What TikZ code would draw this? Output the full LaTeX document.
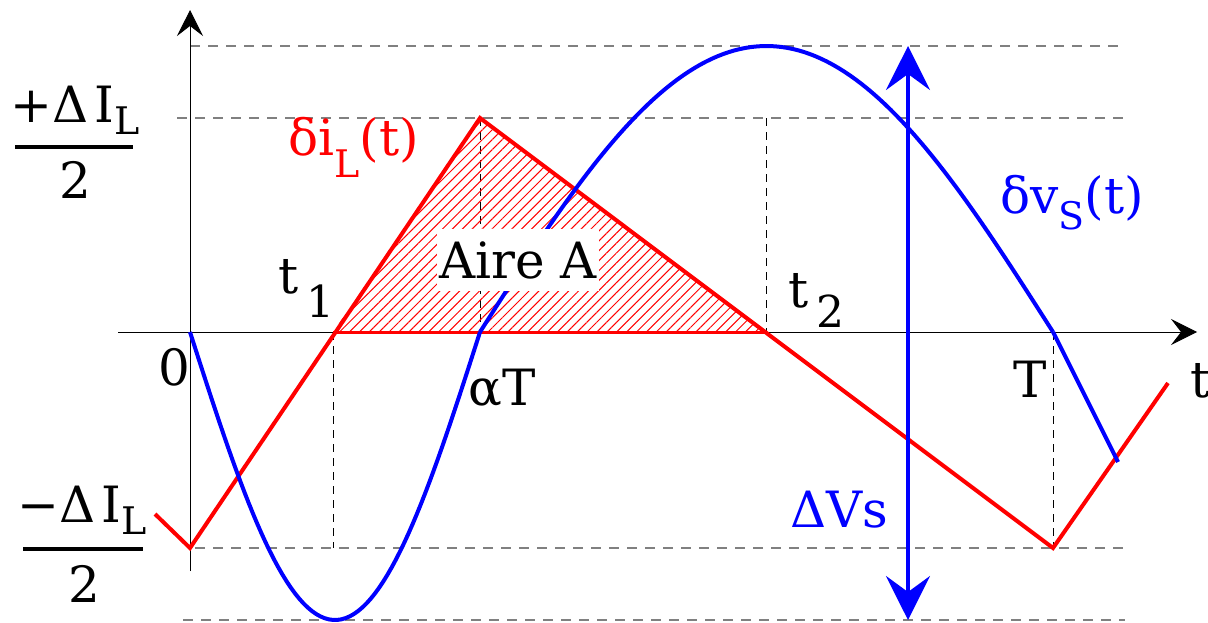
\documentclass[tikz,border=0pt]{standalone}
\usepackage{fontspec}
\setmainfont{DejaVu Serif}
\usetikzlibrary{arrows.meta,patterns.meta}

\newcommand{\lowsub}[2][9pt]{\raisebox{-#1}{\fontsize{19}{19}\selectfont #2}}

\tikzset{
  lbl/.style={inner sep=0pt, anchor=base west, font=\fontsize{25}{30}\selectfont},
  guide/.style={gray, line width=0.75pt, dash pattern=on 5pt off 4pt},
  tick/.style={black, line width=0.4pt, dash pattern=on 4pt off 3pt},
  ripple/.style={red, line width=2pt},
  volt/.style={blue, line width=2pt},
}

\begin{document}
\begin{tikzpicture}[x=0.5pt, y=-0.5pt, >=Stealth]
  \useasboundingbox (0,0) rectangle (1208,622);

  % Key points
  \coordinate (O)   at (190,332);
  \coordinate (t1)  at (333,332);
  \coordinate (aT)  at (480,332);
  \coordinate (pk)  at (480,118);
  \coordinate (t2)  at (766,332);
  \coordinate (T)   at (1053,332);
  \coordinate (lo1) at (190,548);
  \coordinate (lo2) at (1053,548);

  % Guide lines
  \draw[guide] (190,46) -- (1125,46);
  \draw[guide] (177,118) -- (1125,118);
  \draw[guide] (195,548) -- (1125,548);
  \draw[guide] (183,620) -- (1125,620);
  \draw[tick] (t1) -- (t1 |- lo1);
  \draw[tick] (pk) -- (aT);
  \draw[tick] (t2 |- pk) -- (t2);
  \draw[tick] (T) -- (lo2);

  % Axes
  \draw[line width=0.5pt, -{Stealth[length=13pt,width=13pt,inset=5pt]}] (190,571) -- (190,10);
  \draw[line width=0.5pt, -{Stealth[length=13pt,width=13pt,inset=5pt]}] (118,332) -- (1197,332);

  % Area A
  \fill[pattern={Lines[angle=45,distance=3.5pt,line width=0.5pt]}, pattern color=red]
    (t1) -- (pk) -- (t2) -- cycle;
  \draw[red, line width=1.5pt] (t1) -- (t2);

  % Current ripple
  \draw[ripple, line join=miter] (155,514) -- (lo1) -- (pk) -- (lo2) -- (1168,383);

  % Voltage ripple
  \draw[volt] plot[domain=190:480, samples=70] (\x, {332+288*sin((\x-190)/290*180)});
  \draw[volt] plot[domain=480:1053, samples=100] (\x, {332-286*sin((\x-480)/573*180)});
  \draw[volt] (T) -- (1118,462);

  % Delta Vs
  \draw[blue, line width=2pt, {Stealth[length=22pt,width=22pt,inset=8pt]}-{Stealth[length=22pt,width=22pt,inset=8pt]}]
    (908,46) -- (908,620);

  % Labels
  \node[lbl, anchor=base] (pnum) at (75,122) {+Δ\hspace{3pt}I\lowsub[6pt]{L}};
  \draw[line width=2pt] (15,147) -- (133,147);
  \node[lbl, anchor=base] (pden) at (75,198) {2};
  \node[lbl, anchor=base] (mnum) at (82,522) {−Δ\hspace{3pt}I\lowsub[6pt]{L}};
  \draw[line width=2pt] (23,549) -- (143,549);
  \node[lbl, anchor=base] (mden) at (84,602) {2};

  \node[lbl, red] (iL) at (288,155) {δi\lowsub[11pt]{L}(t)};
  \node[lbl, blue] (vS) at (1000,213) {δv\lowsub[8pt]{S}(t)};
  \node[lbl, blue] (dV) at (790,527) {ΔVs};
  \node[lbl] (lt1) at (278,293) {t\,\lowsub[12pt]{\fontsize{22}{22}\selectfont 1}};
  \node[lbl] (lt2) at (788,307) {t\,\lowsub[10pt]{\fontsize{22}{22}\selectfont 2}};
  \node[lbl, fill=white, inner xsep=1pt, inner ysep=6pt] (aire) at (437,278) {Aire A};
  \node[lbl] (zero) at (158,385) {0};
  \node[lbl] (lat) at (468,405) {αT};
  \node[lbl] (lT) at (1013,397) {T};
  \node[lbl] (lt) at (1190,397) {t};
\end{tikzpicture}
\end{document}
